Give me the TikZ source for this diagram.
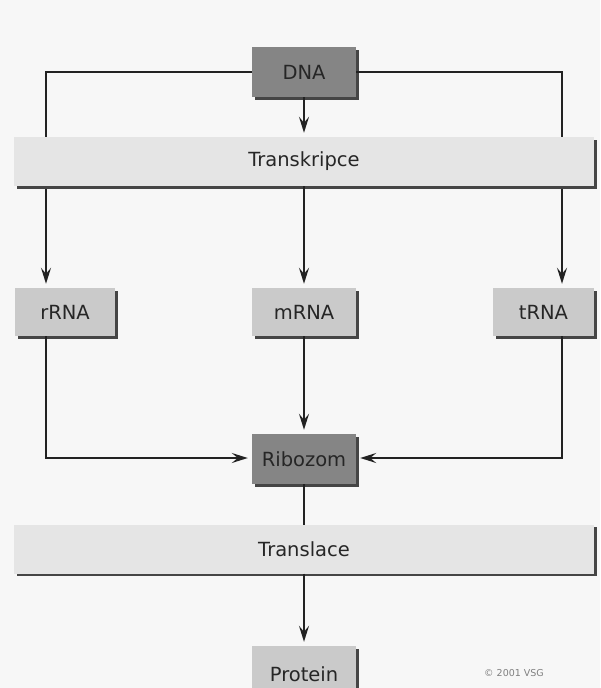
\documentclass[tikz,border=0pt]{standalone}
\usepackage{fontspec}
\setmainfont{DejaVu Sans}
\usetikzlibrary{arrows.meta}
\definecolor{bg}{HTML}{F7F7F7}
\definecolor{darkbox}{HTML}{858585}
\definecolor{lightbox}{HTML}{CACACA}
\definecolor{barfill}{HTML}{E5E5E5}
\definecolor{shade}{HTML}{454545}
\definecolor{ink}{HTML}{222222}
\definecolor{txt}{HTML}{262626}
\tikzset{
  box/.style={rectangle, inner sep=0pt, font=\fontsize{19.5}{20}\selectfont, text=txt},
  darkb/.style={box, fill=darkbox, minimum width=104pt, minimum height=50pt},
  lightb/.style={box, fill=lightbox, minimum height=48pt},
  barb/.style={box, fill=barfill, minimum width=580pt, minimum height=49pt},
  shadowed/.style={preaction={fill=shade, transform canvas={shift={(2.5pt,-2.5pt)}}}},
  conn/.style={draw=ink, line width=2pt},
  arr/.style={conn, -{Stealth[length=16pt,width=10pt,inset=6pt]}, shorten >=4pt},
}
\begin{document}
\begin{tikzpicture}[x=1pt,y=-1pt]
\fill[bg] (0,0) rectangle (600,688);
\useasboundingbox (0,0) rectangle (600,688);
% node positions
\node[darkb, shadowed] (dna) at (304,72) {DNA};
\node[lightb, shadowed, minimum width=100pt] (rrna) at (65,312) {rRNA};
\node[lightb, shadowed, minimum width=104pt] (mrna) at (304,312) {mRNA};
\node[lightb, shadowed, minimum width=101pt] (trna) at (543.5,312) {tRNA};
\node[darkb, shadowed] (ribo) at (304,459) {Ribozom};
\node[lightb, shadowed, minimum width=104pt, minimum height=56pt] (prot) at (304,674) {Protein};
\coordinate (lx) at (46,0);
\coordinate (rx) at (562,0);
% connectors behind bars
\draw[arr] (dna.west) -| (rrna.north -| lx);
\draw[arr] (dna.east) -| (trna.north -| rx);
\draw[conn] (ribo.south) -- ++(0,50);
% bars
\node[barb, shadowed] (trans) at (304,161.5) {Transkripce};
\node[barb, shadowed] (transl) at (304,549) {Translace};
% connectors
\draw[arr] (dna.south) -- (trans.north -| dna.south);
\draw[arr] (trans.south -| mrna.north) -- (mrna.north);
\draw[arr] (rrna.south -| lx) |- (ribo.west |- 0,458);
\draw[arr] (trna.south -| rx) |- (ribo.east |- 0,458);
\draw[arr] (mrna.south) -- (ribo.north);
\draw[arr] (transl.south -| prot.north) -- (prot.north);
\node[font=\fontsize{9.5}{10}\selectfont, text=black!50, anchor=west, inner sep=0pt] (copy) at (484,673) {© 2001 VSG};
\end{tikzpicture}
\end{document}
